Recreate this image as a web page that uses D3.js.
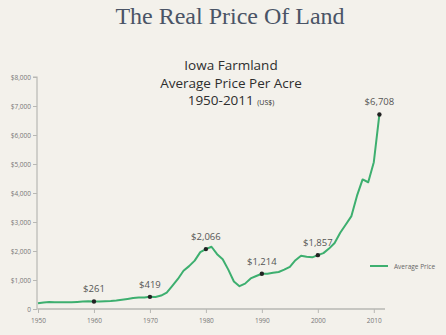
<!DOCTYPE html>
<html><head><meta charset="utf-8">
<script src="https://cdn.jsdelivr.net/npm/d3@7"></script>
<style>
html,body{margin:0;padding:0;background:#f3f1eb;}
svg{display:block;}
</style></head><body>
<svg id="c" width="446" height="335"></svg>
<script>
const years = d3.range(1950, 2012);
const prices = [195,224,240,234,229,234,235,243,255,268,
  261,256,265,277,294,318,346,378,393,395,
  419,414,463,566,798,1035,1319,1478,1668,1962,
  2066,2147,1889,1716,1357,948,787,875,1054,1139,
  1214,1219,1249,1275,1356,1455,1682,1837,1801,1781,
  1857,1926,2083,2275,2629,2914,3204,3908,4468,4371,
  5064,6708];
const labelYears = [1960,1970,1980,1990,2000,2011];
const yTicks = [0,1000,2000,3000,4000,5000,6000,7000,8000];
const xTicks = [1950,1960,1970,1980,1990,2000,2010];
const seriesName = "Average Price";

const svg = d3.select("#c");
const x = d3.scaleLinear().domain([1950, 2012]).range([38, 385]);
const y = d3.scaleLinear().domain([0, 8000]).range([309, 77]);
const green = "#3daf6f";

// Titles
svg.append("text").attr("x",230).attr("y",24).attr("text-anchor","middle")
  .attr("font-family","'Liberation Serif', serif").attr("font-size",24)
  .attr("fill","#4a5466").text("The Real Price Of Land");
const sub = ["Iowa Farmland","Average Price Per Acre"];
sub.forEach((t,i)=>{
  svg.append("text").attr("x",231).attr("y",70+i*17.5).attr("text-anchor","middle")
    .attr("font-family","'Open Sans', sans-serif").attr("font-size",13.5)
    .attr("fill","#2e2e2e").text(t);
});
const t3 = svg.append("text").attr("x",231).attr("y",105).attr("text-anchor","middle")
  .attr("font-family","'Open Sans', sans-serif").attr("fill","#2e2e2e");
t3.append("tspan").attr("font-size",13.5).text("1950-2011 ");
t3.append("tspan").attr("font-size",7).text("(US$)");

// Axes
const yAxis = d3.axisLeft(y).tickValues(yTicks).tickSize(4).tickPadding(2)
  .tickFormat(d => d===0 ? "0" : "$" + d3.format(",")(d));
const gy = svg.append("g").attr("transform","translate(37,0)").call(yAxis);
const xAxis = d3.axisBottom(x).tickValues(xTicks).tickSize(4).tickPadding(5).tickFormat(d3.format("d"));
const gx = svg.append("g").attr("transform","translate(0,309)").call(xAxis);
[gy,gx].forEach(g=>{
  g.select(".domain").attr("stroke","#b8b8b4").attr("stroke-width",1.2);
  g.selectAll(".tick line").attr("stroke","#b8b8b4");
  g.selectAll(".tick text").attr("fill","#777").attr("font-size",6.5)
    .attr("font-family","'Open Sans', sans-serif");
});
gy.select(".domain").attr("d","M-4,"+y(8000)+"H0V"+y(0)+"H"+(x(2012)-37));
gx.select(".domain").attr("d","M"+x(1950)+",0H"+x(2012));

// Line
const data = years.map((yr,i)=>({yr, v:prices[i]}));
svg.append("path").datum(data)
  .attr("fill","none").attr("stroke",green).attr("stroke-width",2)
  .attr("stroke-linejoin","round")
  .attr("d", d3.line().x(d=>x(d.yr)).y(d=>y(d.v)));

// Labeled points
const lp = data.filter(d=>labelYears.includes(d.yr));
svg.selectAll("circle.pt").data(lp).enter().append("circle")
  .attr("cx",d=>x(d.yr)).attr("cy",d=>y(d.v)).attr("r",2.2).attr("fill","#222");
svg.selectAll("text.lbl").data(lp).enter().append("text")
  .attr("x",d=>x(d.yr)).attr("y",d=>y(d.v)-9).attr("text-anchor","middle")
  .attr("font-family","'Open Sans', sans-serif").attr("font-size",9.5).attr("fill","#555")
  .text(d=>"$" + d3.format(",")(d.v));

// Legend
svg.append("line").attr("x1",370).attr("x2",388).attr("y1",266).attr("y2",266)
  .attr("stroke",green).attr("stroke-width",2);
svg.append("text").attr("x",394).attr("y",268.5).attr("font-family","'Open Sans', sans-serif")
  .attr("font-size",6.5).attr("fill","#666").text(seriesName);
</script>
</body></html>
